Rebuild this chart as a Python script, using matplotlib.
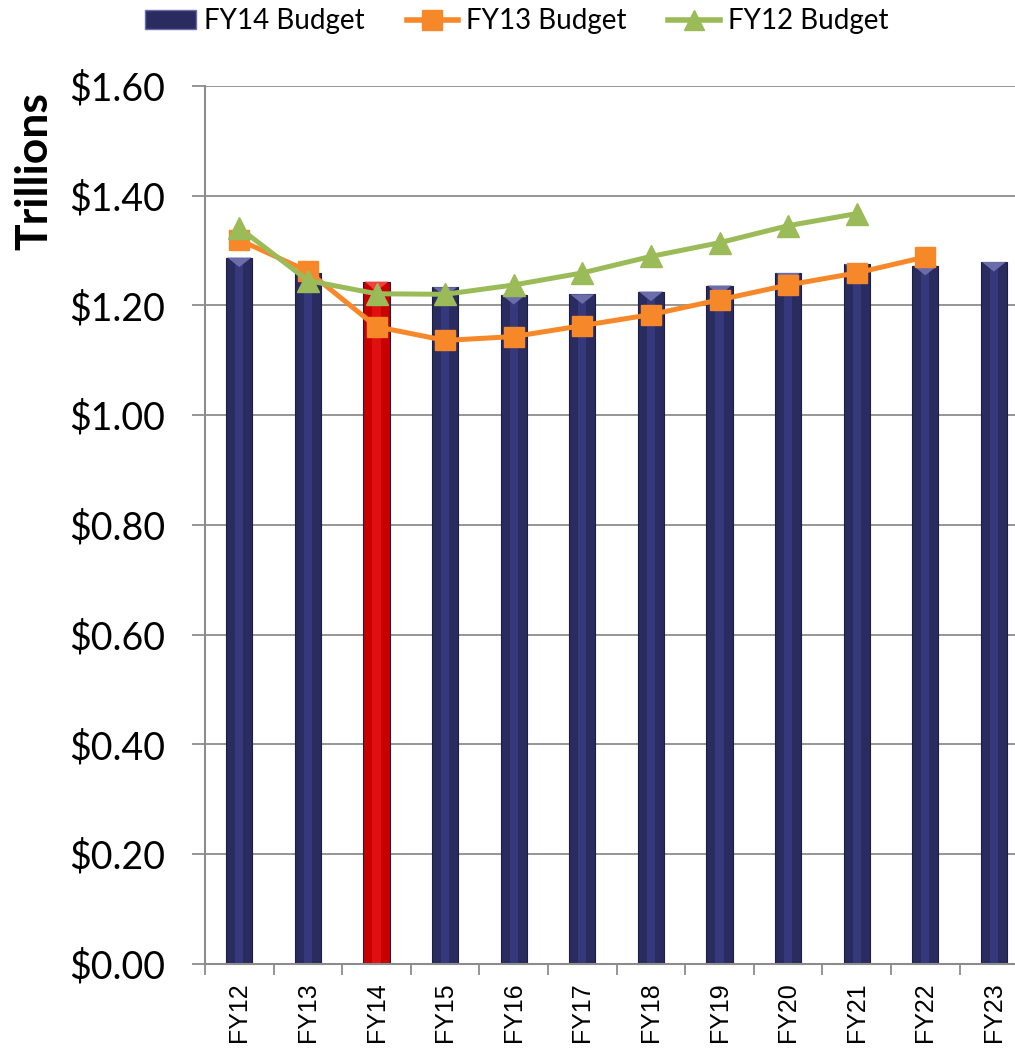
"""FY12/FY13/FY14 budget projections, trillions of dollars."""

import matplotlib.pyplot as plt
from matplotlib.path import Path
from matplotlib.patches import Patch
from matplotlib.lines import Line2D
import numpy as np

years = ["FY12", "FY13", "FY14", "FY15", "FY16", "FY17",
         "FY18", "FY19", "FY20", "FY21", "FY22", "FY23"]
fy14_budget = [1.287, 1.259, 1.243, 1.233, 1.219, 1.220,
               1.225, 1.236, 1.259, 1.275, 1.272, 1.279]
fy13_budget = [1.319, 1.262, 1.161, 1.136, 1.143, 1.163,
               1.183, 1.210, 1.237, 1.259, 1.288]
fy12_budget = [1.341, 1.245, 1.221, 1.220, 1.237, 1.259,
               1.289, 1.314, 1.345, 1.367]
highlight = "FY14"

navy, navy_hi, navy_top = "#2a2b5e", "#35387a", "#6b6daa"
red, red_hi, red_top = "#c80000", "#e01010", "#f04040"
orange, green = "#f7882a", "#9bbb59"
grey = "#8c8c8c"

plt.rcParams["font.family"] = ["Lato", "DejaVu Sans"]

fig = plt.figure(figsize=(10.15, 10.48), dpi=100)
ax = fig.add_axes([0.202, 0.0802, 0.811, 0.838])

x = np.arange(len(years))
is_hl = np.array([y == highlight for y in years])
base_col = np.where(is_hl, red, navy)
hi_col = np.where(is_hl, red_hi, navy_hi)
top_col = np.where(is_hl, red_top, navy_top)

ax.bar(x, fy14_budget, width=0.38, color=base_col, edgecolor="#1d1e44",
       linewidth=0.8, zorder=2)
ax.bar(x, fy14_budget, width=0.12, color=hi_col, linewidth=0, zorder=2.1)

# bevel on top of each bar: triangle hanging below the bar top
bevel = Path([(-1, 0), (1, 0), (0, -0.8), (-1, 0)],
             [Path.MOVETO, Path.LINETO, Path.LINETO, Path.CLOSEPOLY])
ax.scatter(x, fy14_budget, marker=bevel, s=300, c=list(top_col),
           linewidths=0, zorder=2.2)

ax.plot(x[:len(fy13_budget)], fy13_budget, color=orange, lw=3.6,
        marker="s", ms=15, mec=orange, zorder=3)
ax.plot(x[:len(fy12_budget)], fy12_budget, color=green, lw=3.6,
        marker="^", ms=16, mec=green, zorder=4)

ax.set_xlim(-0.5, len(years) - 0.5)
ax.set_ylim(0, 1.6)
ax.set_yticks(np.arange(0, 1.61, 0.2))
ax.set_yticklabels([f"${v:.2f}" for v in np.arange(0, 1.61, 0.2)],
                   fontsize=27)
ax.set_xticks(x)
ax.set_xticklabels(years, rotation=90, fontsize=18,
                   family=["Liberation Sans", "DejaVu Sans"])
ax.set_xticks(np.arange(-0.5, len(years), 1.0), minor=True)
ax.tick_params(axis="x", which="major", length=0, pad=13)
ax.tick_params(axis="x", which="minor", length=8, width=1.3, color=grey)
ax.tick_params(axis="y", length=9.5, width=1.3, color=grey, pad=19)

ax.grid(axis="y", color=grey, lw=1.3, zorder=0)
ax.set_axisbelow(True)
for side in ("top", "right"):
    ax.spines[side].set_visible(False)
for side in ("left", "bottom"):
    ax.spines[side].set_color(grey)
    ax.spines[side].set_linewidth(1.5)

ax.set_ylabel("Trillions", fontsize=32, fontweight="bold")
ax.yaxis.set_label_coords(-0.183, 0.903)

handles = [
    Patch(facecolor=navy, edgecolor=navy_top, label="FY14 Budget"),
    Line2D([], [], color=orange, lw=4, marker="s", ms=15,
           label="FY13 Budget"),
    Line2D([], [], color=green, lw=4, marker="^", ms=15,
           label="FY12 Budget"),
]
fig.legend(handles=handles, loc="upper center", bbox_to_anchor=(0.509, 1.016),
           ncol=3, frameon=False, fontsize=20, handlelength=1.85,
           handletextpad=0.3, columnspacing=1.5)

fig.savefig("out.png", dpi=100)
